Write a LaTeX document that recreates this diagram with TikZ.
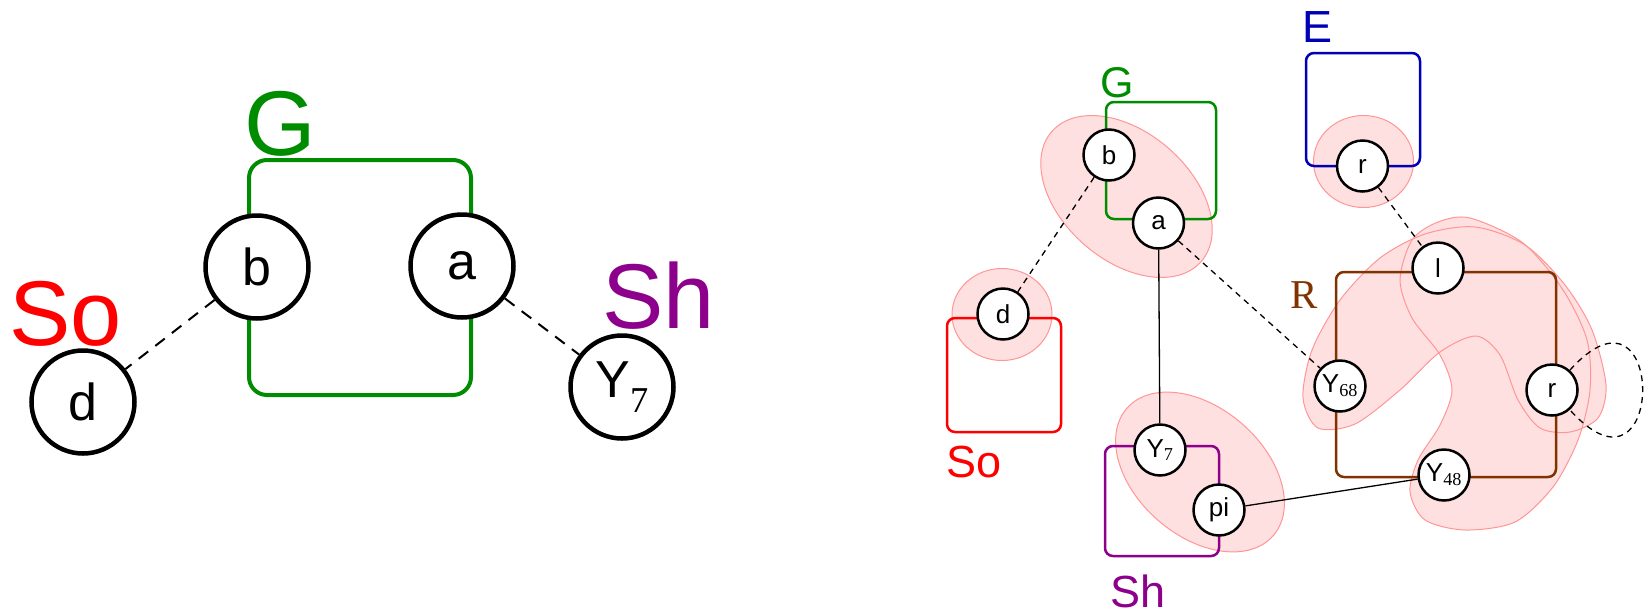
\documentclass[tikz,border=0pt]{standalone}
\usepackage{fontspec}
\setmainfont{Liberation Sans}
\newfontfamily\serifnum{Liberation Serif}
\usetikzlibrary{topaths}

\definecolor{boxgreen}{RGB}{0,140,0}
\definecolor{boxred}{RGB}{255,0,0}
\definecolor{boxpurple}{RGB}{140,0,140}
\definecolor{boxblue}{RGB}{0,0,180}
\definecolor{boxbrown}{RGB}{130,50,0}
\definecolor{hullfill}{RGB}{255,224,224}
\definecolor{hulldraw}{RGB}{255,150,150}

\newcommand{\idx}[1]{\textsubscript{\serifnum #1}}

\tikzset{
    bigvar/.style={circle, draw, fill=white, line width=4.5pt, minimum size=103pt, inner sep=0pt, font=\fontsize{52}{60}\selectfont},
    var/.style={circle, draw, fill=white, line width=2.5pt, minimum size=51pt, inner sep=0pt, font=\fontsize{26}{30}\selectfont},
    bigbox/.style={line width=4pt, rounded corners=18pt},
    smallbox/.style={line width=2.5pt, rounded corners=8pt},
    biglabel/.style={inner sep=0pt, anchor=base west, font=\fontsize{92}{96}\selectfont},
    smalllabel/.style={inner sep=0pt, anchor=base west, font=\fontsize{45}{50}\selectfont},
    hull/.style={fill=hullfill, draw=hulldraw, line width=1pt},
    hullfillonly/.style={fill=hullfill},
    hulldrawonly/.style={draw=hulldraw, line width=1pt},
    bigdash/.style={line width=2pt, dash pattern=on 12pt off 9pt},
    smalldash/.style={line width=1.3pt, dash pattern=on 6pt off 5pt},
    smallline/.style={line width=1.3pt}
}

\begin{document}
\begin{tikzpicture}[x=1pt, y=-1pt]
    \useasboundingbox (0,0) rectangle (1651,614);

    % ---------- left: the small graph ----------
    \draw[bigbox, boxgreen] (249,160) rectangle (471,395);
    \node[biglabel, text=boxgreen] (lblGL) at (244,155) {G};
    \node[biglabel, text=boxred] (lblSoL) at (9,345) {So};
    \node[biglabel, text=boxpurple] (lblShL) at (602,328) {Sh};

    \node[bigvar] (bL) at (257,267) {b};
    \node[bigvar] (aL) at (462,266) {a};
    \node[bigvar] (dL) at (83,402) {d};
    \node[bigvar] (yL) at (622,387) {Y\idx{7}};

    \draw[bigdash] (bL) -- (dL);
    \draw[bigdash] (aL) -- (yL);

    % ---------- right: the hulls ----------
    \path[hull, rotate around={-41:(1126.5,196.5)}] (1126.5,196.5) ellipse[x radius=99, y radius=64];
    \path[hull, rotate around={-41:(1200,472)}] (1200,472) ellipse[x radius=97, y radius=64];
    \path[hull] (1002,314.5) ellipse[x radius=50, y radius=46];
    \path[hull] (1363.5,161.5) ellipse[x radius=50, y radius=46];

    % the two blobs in R overlap: fill both first, then outline both
    \foreach \layer in {hullfillonly, hulldrawonly} {
        \path[\layer] plot[smooth cycle] coordinates {
            (1303,398) (1312,350) (1340,300) (1380,258) (1425,234) (1475,227)
            (1525,245) (1565,285) (1592,330) (1606,385) (1598,418) (1570,432)
            (1540,428) (1518,400) (1500,355) (1476,336) (1440,352) (1400,390)
            (1355,424) (1318,428)};
        \path[\layer] plot[smooth cycle] coordinates {
            (1470,218) (1523,243) (1563,290) (1587,340) (1590,390) (1578,440)
            (1553,487) (1515,522) (1465,530) (1425,520) (1410,492) (1418,460)
            (1440,425) (1452,390) (1440,355) (1412,318) (1400,280) (1412,240)
            (1438,222)};
    }

    % ---------- right: the boxes ----------
    \draw[smallbox, boxgreen] (1106,102) rectangle (1216,219);
    \draw[smallbox, boxblue] (1306,53) rectangle (1420,166);
    \draw[smallbox, boxred] (947,318) rectangle (1061,432);
    \draw[smallbox, boxpurple] (1105,446) rectangle (1219,556);
    \draw[smallbox, boxbrown] (1336,272) rectangle (1556,477);

    \node[smalllabel, text=boxgreen, font=\fontsize{43}{48}\selectfont] (lblG) at (1100,97) {G};
    \node[smalllabel, text=boxblue] (lblE) at (1302,42) {E};
    \node[smalllabel, text=boxred] (lblSo) at (946,477) {So};
    \node[smalllabel, text=boxpurple] (lblSh) at (1110,607) {Sh};
    \node[smalllabel, text=boxbrown, font=\serifnum\fontsize{41}{46}\selectfont] (lblR) at (1290,308) {R};

    % ---------- right: the variables ----------
    \node[var] (b) at (1109,155) {b};
    \node[var] (a) at (1158.5,223) {a};
    \node[var] (d) at (1003,314) {d};
    \node[var] (y7) at (1160,450) {Y\idx{7}};
    \node[var] (pi) at (1219,510) {pi};
    \node[var] (rE) at (1362.5,166) {r};
    \node[var] (l) at (1438,268) {l};
    \node[var] (y68) at (1340,386) {Y\idx{68}};
    \node[var] (rR) at (1552,390) {r};
    \node[var] (y48) at (1444,475) {Y\idx{48}};

    \draw[smalldash] (b) -- (d);
    \draw[smalldash] (a) -- (y68);
    \draw[smalldash] (rE) -- (l);
    \draw[smallline] (a) -- (y7);
    \draw[smallline] (pi) -- (y48);
    \draw[smalldash] (rR) to[out=48, in=-48, min distance=145pt] (rR);

\end{tikzpicture}
\end{document}
